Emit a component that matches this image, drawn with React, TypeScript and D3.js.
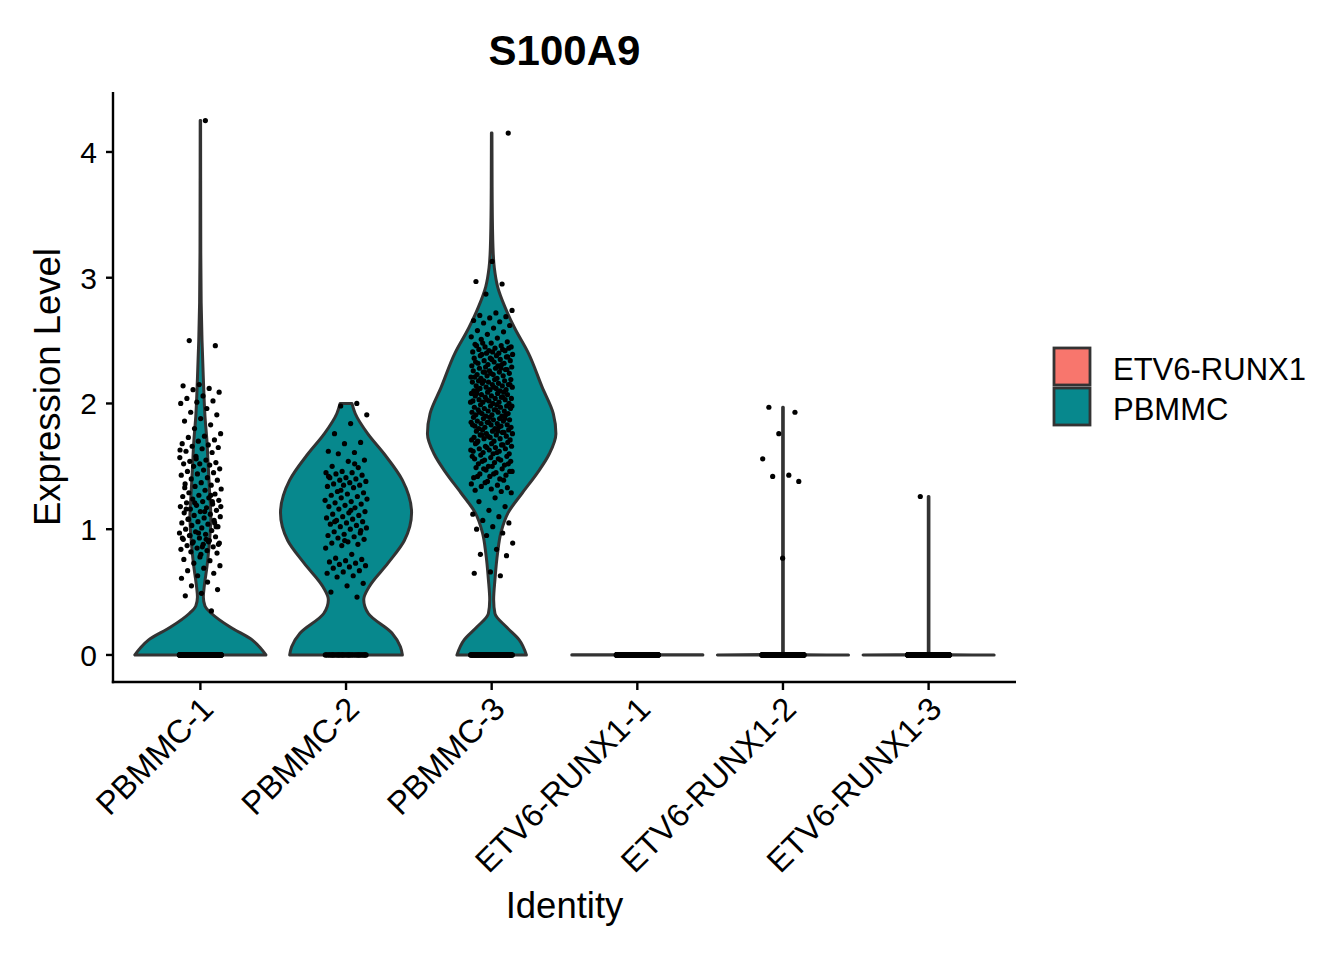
import React, { useRef, useEffect } from "react";
import * as d3 from "d3";

// identities on the x axis and the sample group each one belongs to
const categories = [
  "PBMMC-1",
  "PBMMC-2",
  "PBMMC-3",
  "ETV6-RUNX1-1",
  "ETV6-RUNX1-2",
  "ETV6-RUNX1-3",
];
const categoryGroup = [
  "PBMMC",
  "PBMMC",
  "PBMMC",
  "ETV6-RUNX1",
  "ETV6-RUNX1",
  "ETV6-RUNX1",
];
const legendGroups = ["ETV6-RUNX1", "PBMMC"];
const groupColors = ["#F8766D", "#07888D"];
const yTicks = [0, 1, 2, 3, 4];

// number of cells with zero expression per identity
const zeroCounts = [230, 40, 90, 320, 300, 300];

// violin outlines: [expression, relative half width]
const pbmmc1Density: [number, number][] = [
  [0, 1], [0.06, 0.91], [0.12, 0.79], [0.22, 0.46], [0.33, 0.17], [0.39, 0.07],
  [0.46, 0.045], [0.55, 0.06], [0.7, 0.1], [0.85, 0.13], [1.1, 0.16], [1.3, 0.14],
  [1.5, 0.12], [1.7, 0.1], [1.9, 0.07], [2.2, 0.045], [2.5, 0.025], [2.8, 0.012],
  [3.2, 0.006], [3.8, 0.004], [4.25, 0.003],
];
const pbmmc2Density: [number, number][] = [
  [0, 0.86], [0.065, 0.83], [0.175, 0.7], [0.33, 0.34], [0.44, 0.27], [0.54, 0.35],
  [0.73, 0.64], [0.91, 0.89], [1.13, 1], [1.39, 0.86], [1.6, 0.58], [1.76, 0.33],
  [1.92, 0.14], [2.0, 0.09],
];
const pbmmc3Density: [number, number][] = [
  [0, 0.53], [0.12, 0.42], [0.22, 0.23], [0.33, 0.05], [0.44, 0.03], [0.6, 0.05],
  [0.81, 0.09], [0.97, 0.14], [1.13, 0.25], [1.29, 0.47], [1.45, 0.7], [1.6, 0.88],
  [1.76, 0.98], [1.92, 0.94], [2.13, 0.77], [2.4, 0.56], [2.6, 0.35], [2.77, 0.2],
  [2.93, 0.09], [3.08, 0.04], [3.24, 0.02], [3.6, 0.008], [4.15, 0.004],
];
const etv1Density: [number, number][] = [[0, 1], [0.002, 1]];
const etv2Density: [number, number][] = [[0, 1], [0.004, 0.005], [1.97, 0.005]];
const etv3Density: [number, number][] = [[0, 1], [0.004, 0.005], [1.26, 0.005]];

// expression of cells with non-zero values
const pbmmc1Values = [
  4.25, 2.5, 2.46,
  2.15, 2.14, 2.12, 2.11, 2.09, 2.06, 2.04, 2.02, 2.01, 2.0,
  1.96, 1.93, 1.91, 1.88, 1.86, 1.83, 1.8,
  1.76, 1.74, 1.73, 1.71, 1.7, 1.68, 1.67, 1.66, 1.65, 1.64, 1.62, 1.61,
  1.58, 1.57, 1.55, 1.54, 1.53, 1.52, 1.52, 1.51, 1.5, 1.48, 1.47, 1.46, 1.45,
  1.44, 1.43, 1.41, 1.4, 1.39,
  1.37, 1.36, 1.35, 1.34, 1.32, 1.31, 1.29, 1.28, 1.27, 1.26, 1.25, 1.24, 1.23,
  1.22, 1.21, 1.2, 1.19, 1.18, 1.17, 1.16, 1.15, 1.14, 1.13, 1.12, 1.11, 1.1,
  1.09, 1.08, 1.07, 1.06, 1.05, 1.04, 1.03, 1.02, 1.01, 1.0, 0.99, 0.98, 0.97,
  0.96, 0.95, 0.94, 0.93, 0.92, 0.91, 0.9, 0.89, 0.88, 0.87, 0.86, 0.85, 0.84,
  0.83, 0.82, 0.81, 0.8,
  1.33, 1.27, 1.21, 1.18, 1.14, 1.08, 1.05, 0.97, 0.93, 0.9, 0.89, 0.88, 0.86,
  1.16, 1.22, 1.56, 1.63, 0.92, 0.95, 1.02,
  0.78, 0.76, 0.75, 0.73, 0.71, 0.69, 0.67, 0.65, 0.63, 0.61, 0.58, 0.55, 0.52,
  0.49, 0.47, 0.35,
];
const pbmmc2Values = [
  2.0, 1.98, 1.91, 1.84, 1.76, 1.69, 1.68, 1.62, 1.61, 1.6, 1.55, 1.54, 1.5,
  1.49, 1.46, 1.45, 1.45, 1.44, 1.43, 1.41, 1.41, 1.4, 1.39, 1.38, 1.37, 1.36,
  1.35, 1.35, 1.34, 1.33, 1.3, 1.29, 1.28, 1.27, 1.26, 1.25, 1.23, 1.22, 1.21,
  1.2, 1.19, 1.18, 1.17, 1.16, 1.14, 1.13, 1.12, 1.11, 1.1, 1.09, 1.08, 1.07,
  1.06, 1.05, 1.04, 1.03, 1.02, 1.01, 1.0, 0.98, 0.97, 0.96, 0.95, 0.94, 0.93,
  0.92, 0.9, 0.89, 0.88, 0.87, 0.85, 0.8, 0.77, 0.76, 0.75, 0.74, 0.73, 0.72,
  0.71, 0.7, 0.69, 0.67, 0.66, 0.65, 0.63, 0.62, 0.57, 0.55, 0.5, 0.46,
  1.31, 1.24, 1.15, 1.06, 0.99, 0.91, 1.42, 1.52,
];
const pbmmc3Values = [
  4.15, 3.13, 2.97, 2.95, 2.87,
  2.74, 2.72, 2.7, 2.69, 2.68, 2.66, 2.65, 2.64, 2.62, 2.6, 2.58, 2.57, 2.55,
  2.53, 2.52, 2.51,
  2.49, 2.48, 2.47, 2.46, 2.45, 2.45, 2.44, 2.43, 2.42, 2.42, 2.41, 2.4, 2.48,
  2.44, 2.41, 2.46, 2.43, 2.4,
  2.39, 2.38, 2.38, 2.37, 2.36, 2.36, 2.35, 2.34, 2.34, 2.33, 2.32, 2.32, 2.31,
  2.3, 2.3, 2.39, 2.37, 2.35, 2.33, 2.31,
  2.29, 2.29, 2.28, 2.28, 2.27, 2.26, 2.26, 2.25, 2.25, 2.24, 2.23, 2.23, 2.22,
  2.22, 2.21, 2.2, 2.2, 2.27, 2.24, 2.21, 2.28, 2.25,
  2.19, 2.19, 2.18, 2.18, 2.17, 2.17, 2.16, 2.16, 2.15, 2.15, 2.14, 2.14, 2.13,
  2.13, 2.12, 2.12, 2.11, 2.11, 2.1, 2.1, 2.18, 2.15, 2.13, 2.11,
  2.09, 2.09, 2.08, 2.08, 2.07, 2.07, 2.06, 2.06, 2.05, 2.05, 2.04, 2.04, 2.03,
  2.03, 2.02, 2.02, 2.01, 2.01, 2.0, 2.0, 2.08, 2.05, 2.03, 2.01,
  1.99, 1.99, 1.98, 1.98, 1.97, 1.97, 1.96, 1.96, 1.95, 1.95, 1.94, 1.94, 1.93,
  1.93, 1.92, 1.92, 1.91, 1.91, 1.9, 1.9, 1.98, 1.95, 1.93, 1.91,
  1.89, 1.89, 1.88, 1.88, 1.87, 1.87, 1.86, 1.86, 1.85, 1.85, 1.84, 1.84, 1.83,
  1.83, 1.82, 1.82, 1.81, 1.81, 1.8, 1.8, 1.88, 1.85, 1.83, 1.81,
  1.79, 1.79, 1.78, 1.78, 1.77, 1.76, 1.76, 1.75, 1.75, 1.74, 1.73, 1.73, 1.72,
  1.72, 1.71, 1.7, 1.7, 1.77, 1.74, 1.71, 1.78, 1.75,
  1.69, 1.68, 1.68, 1.67, 1.66, 1.66, 1.65, 1.64, 1.64, 1.63, 1.62, 1.62, 1.61,
  1.6, 1.6, 1.69, 1.67, 1.65, 1.63, 1.61,
  1.59, 1.58, 1.57, 1.56, 1.55, 1.55, 1.54, 1.53, 1.52, 1.51, 1.5, 1.58, 1.56,
  1.54, 1.52, 1.5,
  1.49, 1.48, 1.47, 1.46, 1.45, 1.44, 1.43, 1.42, 1.41, 1.4, 1.48, 1.46, 1.44,
  1.42,
  1.39, 1.38, 1.36, 1.35, 1.34, 1.33, 1.32, 1.31, 1.3, 1.37,
  1.29, 1.25, 1.22, 1.18, 1.15, 1.12, 1.1, 1.07, 1.05, 1.02, 1.0, 0.97,
  0.95, 0.89, 0.84, 0.8, 0.79, 0.66, 0.65, 0.63,
];
const etv1Values: number[] = [];
const etv2Values = [1.97, 1.93, 1.76, 1.56, 1.43, 1.42, 1.38, 0.77];
const etv3Values = [1.26];

const densities = [pbmmc1Density, pbmmc2Density, pbmmc3Density, etv1Density, etv2Density, etv3Density];
const valueSets = [pbmmc1Values, pbmmc2Values, pbmmc3Values, etv1Values, etv2Values, etv3Values];

const FONT = "'Liberation Sans', Arial, Helvetica, sans-serif";

const ViolinPlot: React.FC = () => {
  const svgRef = useRef<SVGSVGElement | null>(null);

  useEffect(() => {
    if (!svgRef.current) return;
    const svg = d3.select(svgRef.current);
    svg.selectAll("*").remove();

    const left = 113;
    const right = 1016;
    const top = 92;
    const bottom = 682;

    const x = d3.scalePoint<string>().domain(categories).range([left, right]).padding(0.6);
    const y = d3.scaleLinear().domain([-0.215, 4.477]).range([bottom, top]);
    const color = d3.scaleOrdinal<string, string>().domain(legendGroups).range(groupColors);
    const halfWidth = x.step() * 0.45;
    const jitter = x.step() * 0.145;

    // violins
    const gv = svg.append("g");
    categories.forEach((cat, i) => {
      const cx = x(cat)!;
      const area = d3
        .area<[number, number]>()
        .y((d) => y(d[0]))
        .x0((d) => cx - d[1] * halfWidth)
        .x1((d) => cx + d[1] * halfWidth)
        .curve(d3.curveMonotoneY);
      gv.append("path")
        .datum(densities[i])
        .attr("d", area)
        .attr("fill", color(categoryGroup[i]))
        .attr("stroke", "#333333")
        .attr("stroke-width", 3)
        .attr("stroke-linejoin", "round");
    });

    // jittered cells
    const gp = svg.append("g").attr("fill", "#000");
    categories.forEach((cat, i) => {
      const cx = x(cat)!;
      const cells = [...valueSets[i], ...new Array(zeroCounts[i]).fill(0)];
      cells.forEach((v, k) => {
        const u = (((k + 1) * 0.6180339887 + i * 0.137) % 1) * 2 - 1;
        gp.append("circle")
          .attr("cx", cx + u * jitter)
          .attr("cy", y(v))
          .attr("r", 2.6);
      });
    });

    // axes
    const axes = svg.append("g").attr("stroke", "#000").attr("stroke-width", 2.4);
    axes.append("line").attr("x1", left).attr("x2", left).attr("y1", top).attr("y2", bottom + 1.2);
    axes.append("line").attr("x1", left - 1.2).attr("x2", right).attr("y1", bottom).attr("y2", bottom);
    yTicks.forEach((t) => {
      axes.append("line").attr("x1", left - 7).attr("x2", left).attr("y1", y(t)).attr("y2", y(t));
    });
    categories.forEach((c) => {
      axes.append("line").attr("x1", x(c)!).attr("x2", x(c)!).attr("y1", bottom).attr("y2", bottom + 8);
    });

    const text = svg.append("g").attr("font-family", FONT).attr("fill", "#000");
    yTicks.forEach((t) => {
      text.append("text")
        .attr("x", 97)
        .attr("y", y(t))
        .attr("dy", "0.36em")
        .attr("text-anchor", "end")
        .attr("font-size", 30)
        .text(d3.format("d")(t));
    });
    categories.forEach((c) => {
      text.append("text")
        .attr("transform", `translate(${x(c)! + 15},${bottom + 29}) rotate(-45)`)
        .attr("text-anchor", "end")
        .attr("font-size", 32.5)
        .text(c);
    });

    text.append("text")
      .attr("x", (left + right) / 2)
      .attr("y", 65)
      .attr("text-anchor", "middle")
      .attr("font-size", 42)
      .attr("font-weight", "bold")
      .text("S100A9");
    text.append("text")
      .attr("x", (left + right) / 2)
      .attr("y", 918)
      .attr("text-anchor", "middle")
      .attr("font-size", 36.5)
      .text("Identity");
    text.append("text")
      .attr("transform", `translate(60,${(top + bottom) / 2}) rotate(-90)`)
      .attr("text-anchor", "middle")
      .attr("font-size", 36.5)
      .text("Expression Level");

    // legend
    const lg = svg.append("g");
    legendGroups.forEach((g, i) => {
      lg.append("rect")
        .attr("x", 1054)
        .attr("y", 348 + i * 40)
        .attr("width", 36)
        .attr("height", 37)
        .attr("fill", color(g))
        .attr("stroke", "#333333")
        .attr("stroke-width", 2.8);
      lg.append("text")
        .attr("x", 1113)
        .attr("y", 380 + i * 39.5)
        .attr("font-family", FONT)
        .attr("font-size", 31)
        .text(g);
    });
  }, []);

  return (
    <svg
      ref={svgRef}
      width={1344}
      height={960}
      style={{ position: "absolute", left: 0, top: 0, background: "#fff" }}
    />
  );
};

export default function App() {
  return <ViolinPlot />;
}
